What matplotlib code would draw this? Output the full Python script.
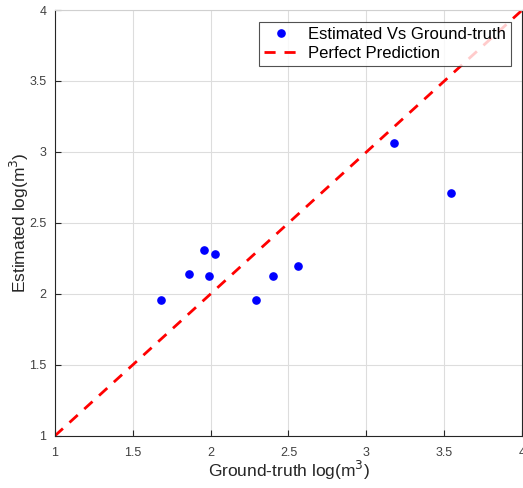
import numpy as np
import matplotlib
matplotlib.use('Agg')
import matplotlib.pyplot as plt

plt.rcParams['font.family'] = ['Liberation Sans', 'DejaVu Sans']

# ground truth vs estimated (log m^3)
ground_truth = [1.68, 1.86, 1.96, 2.03, 1.99, 2.29, 2.40, 2.56, 3.18, 3.54]
estimated = [1.96, 2.14, 2.31, 2.28, 2.13, 1.96, 2.13, 2.20, 3.06, 2.71]
ideal = [1, 4]
ticks = [1, 1.5, 2, 2.5, 3, 3.5, 4]
tick_labels = ['1', '1.5', '2', '2.5', '3', '3.5', '4']

fig = plt.figure(figsize=(5.23, 4.88), dpi=100)
ax = fig.add_axes([0.1046, 0.1066, 0.894, 0.8729])

ax.plot(ground_truth, estimated, 'o', color='#0000ff', markersize=5.2,
        label='Estimated Vs Ground-truth', zorder=3)
ax.plot(ideal, ideal, '--', color='#ff0000', linewidth=2, dashes=(4, 3.2),
        label='Perfect Prediction', zorder=2)

ax.set_xlim(1, 4)
ax.set_ylim(1, 4)
ax.set_xticks(ticks)
ax.set_yticks(ticks)
ax.set_xticklabels(tick_labels)
ax.set_yticklabels(tick_labels)
ax.tick_params(direction='in', length=4, labelsize=9, colors='#262626',
               labelcolor='#404040', top=False, right=False)
ax.tick_params(axis='x', pad=8)
ax.tick_params(axis='y', pad=6)
ax.grid(True, color='#dddddd', linewidth=0.8)
ax.set_axisbelow(True)
for s in ['left', 'bottom', 'right']:
    ax.spines[s].set_color('#262626')
    ax.spines[s].set_linewidth(0.8)
ax.spines['top'].set_color('#d0d0d0')

ax.set_xlabel('Ground-truth log(m$^3$)', fontsize=12.5, color='#262626', labelpad=0)
ax.set_ylabel('Estimated log(m$^3$)', fontsize=12.5, color='#262626', labelpad=-1)

leg = ax.legend(loc='upper right', fontsize=12, frameon=True, fancybox=False,
                edgecolor='#262626', borderaxespad=0.7, handlelength=2.0,
                handletextpad=0.6, borderpad=0.3, labelspacing=0.25)
leg.get_frame().set_linewidth(0.8)

fig.savefig('out.png', dpi=100)
